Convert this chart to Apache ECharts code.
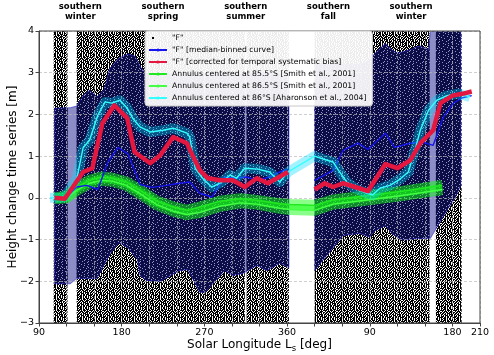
<!DOCTYPE html>
<html><head><meta charset="utf-8">
<script src="https://cdn.jsdelivr.net/npm/echarts@6/dist/echarts.min.js"></script>
<style>html,body{margin:0;padding:0;background:#fff;}#c{width:494px;height:355px;}</style>
</head><body><div id="c"></div>
<script>
// ---------------- data ----------------
const X_MIN = 90, X_MAX = 570, Y_MIN = -3, Y_MAX = 4;
const xLabelValues = [90, 180, 270, 360, 450, 540, 570];
const seasonLabels = ['southern\nwinter', 'southern\nspring', 'southern\nsummer', 'southern\nfall', 'southern\nwinter'];
const seasonCenters = [135, 225, 315, 405, 495];

// L_s ranges covered by the "F" point cloud
const dotRanges = [[106, 121], [131, 314], [316, 362], [390, 515], [522, 550]];

// envelope of the point cloud (left part / right part)
const bandLLs = [107, 124, 131, 138, 145, 153, 161, 167, 177, 187, 194, 197, 200, 207, 222, 243, 252, 265, 271, 292, 301, 312, 327, 338, 352, 362];
const bandLUp = [2.15, 2.16, 2.2, 2.45, 2.58, 2.42, 2.6, 3.1, 3.35, 3.45, 3.4, 3.3, 3.15, 2.95, 3.0, 3.0, 3.0, 3.0, 3.0, 3.0, 3.0, 3.0, 3.0, 3.0, 3.0, 3.0];
const bandLLo = [-2.06, -2.06, -1.93, -1.93, -1.93, -1.93, -1.6, -1.35, -1.07, -1.2, -1.4, -1.45, -1.86, -1.98, -2.0, -1.74, -1.72, -2.26, -2.26, -1.74, -1.86, -1.81, -1.62, -1.74, -1.57, -1.67];
const bandRLs = [390, 421, 439, 450, 455, 467, 474, 480, 486, 494, 501, 505, 514, 516, 534, 543, 549];
const bandRUp = [3.2, 3.2, 3.2, 3.3, 3.45, 3.7, 3.55, 3.47, 3.5, 3.55, 3.62, 3.64, 3.55, 4.3, 4.3, 4.3, 4.3];
const bandRLo = [-1.74, -0.9, -0.85, -0.94, -0.8, -0.66, -0.85, -0.95, -1.01, -1.0, -0.97, -0.97, -0.97, -0.97, -0.3, 0.0, 0.3];

// "F" median-binned curve
const blueLs = [107, 120, 131, 142, 154, 165, 176, 187, 200, 213, 229, 243, 254, 265, 278, 292, 303, 316, 328, 341, 352, 360, 375, 390, 410, 421, 437, 448, 467, 477, 494, 507, 519, 530, 541, 551, 561];
const blueVal = [0.0, 0.02, 0.26, 0.3, 0.2, 0.86, 1.21, 1.05, 0.32, 0.25, 0.3, 0.35, 0.38, 0.11, 0.02, 0.5, 0.47, 0.5, 0.42, 0.5, 0.62, 0.69, null, 0.42, 0.66, 1.14, 1.31, 1.16, 1.55, 1.21, 1.31, 1.34, 1.26, 1.93, 2.27, 2.4, 2.45];

// "F" corrected for temporal systematic bias
const redLs = [107, 118, 120, 138, 148, 159, 172, 186, 194, 211, 222, 236, 251, 256, 265, 274, 287, 301, 314, 327, 339, 349, 361, 375, 390, 401, 410, 421, 434, 448, 467, 480, 494, 505, 519, 527, 540, 552, 561];
const redVal = [0.0, -0.02, 0.04, 0.62, 0.71, 1.79, 2.22, 1.91, 1.1, 0.83, 1.02, 1.46, 1.31, 1.07, 0.66, 0.47, 0.42, 0.42, 0.26, 0.47, 0.35, 0.47, 0.62, null, 0.2, 0.35, 0.26, 0.35, 0.26, 0.16, 0.81, 0.71, 0.9, 1.31, 1.62, 2.27, 2.45, 2.5, 2.55];

// Annulus 85.5°S and 86.5°S [Smith et al., 2001]
const greenLs = [107, 120, 131, 145, 158, 170, 185, 200, 218, 236, 251, 265, 287, 309, 327, 352, 363, 390, 410, 447, 483, 505, 529];
const green855 = [0.0, 0.04, 0.26, 0.42, 0.5, 0.47, 0.38, 0.18, -0.08, -0.22, -0.3, -0.22, -0.08, -0.02, -0.06, -0.14, -0.16, -0.18, -0.05, 0.05, 0.15, 0.22, 0.3];
const green865 = [-0.02, 0.0, 0.18, 0.35, 0.42, 0.4, 0.3, 0.1, -0.16, -0.32, -0.4, -0.35, -0.2, -0.12, -0.15, -0.25, -0.28, -0.3, -0.15, -0.05, 0.05, 0.12, 0.2];

// Annulus 86°S [Aharonson et al., 2004]
const cyanLs = [102, 113, 118, 126, 131, 138, 145, 154, 162, 169, 178, 186, 192, 200, 211, 225, 236, 251, 254, 260, 268, 278, 289, 298, 305, 314, 328, 341, 352, 361, 390, 401, 410, 416, 425, 434, 447, 453, 461, 472, 483, 492, 500, 505, 514, 523, 534, 546, 559];
const cyanVal = [0.0, 0.0, 0.02, 0.3, 0.45, 1.2, 1.38, 1.98, 2.3, 2.27, 2.34, 2.15, 1.91, 1.7, 1.58, 1.62, 1.67, 1.55, 1.46, 0.71, 0.47, 0.26, 0.38, 0.55, 0.47, 0.71, 0.69, 0.62, 0.38, 0.62, 1.0, 0.92, 0.86, 0.66, 0.38, 0.23, 0.11, 0.07, 0.23, 0.3, 0.45, 0.62, 1.21, 1.62, 2.1, 2.34, 2.45, 2.5, 2.42];

const NAME_F = '"F"';
const NAME_BLUE = '"F" [median-binned curve]';
const NAME_RED = '"F" [corrected for temporal systematic bias]';
const NAME_G1 = 'Annulus centered at 85.5°S [Smith et al., 2001]';
const NAME_G2 = 'Annulus centered at 86.5°S [Smith et al., 2001]';
const NAME_CYAN = 'Annulus centered at 86°S [Aharonson et al., 2004]';

// ---------------- styling helpers ----------------
const FONT = 'DejaVu Sans';
function pairs(xs, ys) { return xs.map((x, i) => [x, ys[i] == null ? '-' : ys[i]]); }
const bandSets = [[bandLLs, bandLUp, bandLLo], [bandRLs, bandRUp, bandRLo]];

function makeTile(rows, ink, paper) {
  const c = document.createElement('canvas'); c.width = rows[0].length; c.height = rows.length;
  const g = c.getContext('2d');
  g.fillStyle = paper; g.fillRect(0, 0, c.width, c.height);
  g.fillStyle = ink;
  rows.forEach((r, y) => { for (let x = 0; x < r.length; x++) if (r[x] === '#') g.fillRect(x, y, 1, 1); });
  return c;
}
// speckle textures: open point cloud, and the dense core inside the envelope
const sparseTile = makeTile([
  '#.##.#.##.#.#',
  '.###.##.###.#',
  '##.#.###.#.##',
  '#.###.#.###..',
  '.##.##.###.##',
  '##.#.###.#.#.',
  '#.##.#.####.#',
  '.#.###.#.##.#',
  '##.#.##.###.#',
  '#.##.##.#.###',
  '.###.#.##.#.#'
], '#000', '#fff');
const denseTile = makeTile([
  '###.######.##',
  '######.######',
  '#.#######.###',
  '#####.####.##',
  '########.###.',
  '##.##########',
  '#######.##.##',
  '.#####.######',
  '####.#####.##',
  '#########.###',
  '#.####.######'
], '#0c0c46', '#9494cc');
const dotIcon = (function () {
  const c = document.createElement('canvas'); c.width = 18; c.height = 4;
  const g = c.getContext('2d'); g.fillStyle = '#000'; g.fillRect(3, 1, 2, 2);
  return 'image://' + c.toDataURL();
})();

// clip a pixel polygon to a vertical slab [xa, xb]
function clipEdge(pts, inside, cross) {
  const res = [];
  for (let i = 0; i < pts.length; i++) {
    const cur = pts[i], prev = pts[(i + pts.length - 1) % pts.length];
    const ci = inside(cur), pi = inside(prev);
    if (ci) { if (!pi) res.push(cross(prev, cur)); res.push(cur); }
    else if (pi) res.push(cross(prev, cur));
  }
  return res;
}
function atX(a, b, x) { const t = (x - a[0]) / (b[0] - a[0]); return [x, a[1] + t * (b[1] - a[1])]; }
function clipSlab(pts, xa, xb) {
  let out = clipEdge(pts, p => p[0] >= xa, (a, b) => atX(a, b, xa));
  if (out.length) out = clipEdge(out, p => p[0] <= xb, (a, b) => atX(a, b, xb));
  return out;
}

function wideBand(xs, ys, color, width, z) {
  return { type: 'line', data: pairs(xs, ys), symbol: 'none', silent: true, z: z,
    lineStyle: { width: width, color: color, join: 'round', cap: 'butt' } };
}
function curve(name, xs, ys, color, width, z) {
  return { type: 'line', name: name, data: pairs(xs, ys), symbol: 'none', z: z,
    lineStyle: { width: width, color: color, join: 'round' }, itemStyle: { color: color } };
}

const chart = echarts.init(document.getElementById('c'), null, { renderer: 'canvas' });
const option = {
  animation: false,
  textStyle: { fontFamily: FONT },
  grid: { left: 39, right: 14, top: 31, bottom: 32, containLabel: false, outerBoundsMode: 'none',
    show: true, borderColor: '#444', borderWidth: 1, z: 9 },
  xAxis: {
    type: 'value', min: X_MIN, max: X_MAX, interval: 30, z: 3,
    axisLine: { show: true, onZero: false, lineStyle: { color: '#444' } },
    axisTick: { show: true, length: 3.5, lineStyle: { color: '#444' } },
    axisLabel: { color: '#000', fontSize: 9.5, fontFamily: FONT, margin: 5,
      formatter: v => xLabelValues.indexOf(v) >= 0 ? String(v > 360 ? v - 360 : v) : '' },
    splitLine: { show: true, lineStyle: { color: '#b8b8b8', type: [3, 2], width: 0.8, opacity: 0.85 } },
    name: 'Solar Longitude L{s|s} [deg]', nameLocation: 'middle', nameGap: 14, nameMoveOverlap: false,
    nameTextStyle: { color: '#000', fontSize: 12, fontFamily: FONT, lineHeight: 16,
      rich: { s: { fontSize: 8.5, fontFamily: FONT, lineHeight: 10, verticalAlign: 'bottom', color: '#000' } } }
  },
  yAxis: {
    type: 'value', min: Y_MIN, max: Y_MAX, interval: 1, z: 3,
    axisLine: { show: true, onZero: false, lineStyle: { color: '#444' } },
    axisTick: { show: true, length: 3.5, lineStyle: { color: '#444' } },
    axisLabel: { color: '#000', fontSize: 9.5, fontFamily: FONT, margin: 5,
      formatter: v => v < 0 ? '\u2212' + (-v) : String(v) },
    splitLine: { show: true, lineStyle: { color: '#b8b8b8', type: [3, 2], width: 0.8, opacity: 0.85 } },
    name: 'Height change time series [m]', nameLocation: 'middle', nameGap: 20, nameMoveOverlap: false,
    nameTextStyle: { color: '#000', fontSize: 12, fontFamily: FONT }
  },
  legend: {
    orient: 'vertical', left: 145, top: 31, z: 20, selectedMode: false,
    itemWidth: 18, itemHeight: 4, itemGap: 2,
    textStyle: { fontFamily: FONT, fontSize: 7.7, color: '#000', lineHeight: 10 },
    backgroundColor: 'rgba(255,255,255,0.93)', borderColor: '#c8c8c8', borderWidth: 1, borderRadius: 3,
    padding: [2, 6, 3, 3],
    data: [{ name: NAME_F, icon: dotIcon }, NAME_BLUE, NAME_RED, NAME_G1, NAME_G2, NAME_CYAN]
  },
  series: [
    {
      type: 'custom', name: NAME_F, z: 1, silent: true, data: dotRanges,
      itemStyle: { color: '#000' },
      renderItem: function (params, api) {
        const p0 = api.coord([api.value(0), Y_MAX]);
        const p1 = api.coord([api.value(1), Y_MIN]);
        return { type: 'rect', shape: { x: p0[0], y: p0[1], width: p1[0] - p0[0], height: p1[1] - p0[1] },
          style: { fill: { type: 'pattern', image: sparseTile, repeat: 'repeat' } } };
      }
    },
    {
      type: 'custom', name: 'envelope', z: 2, silent: true, clip: true,
      data: bandSets.map((s, i) => [s[0][0], s[0][s[0].length - 1], i]),
      renderItem: function (params, api) {
        const set = bandSets[api.value(2)];
        const top = params.coordSys.y;
        const upPts = set[0].map((x, i) => api.coord([x, set[1][i]]));
        const loPts = set[0].map((x, i) => api.coord([x, set[2][i]])).reverse();
        const pts = upPts.concat(loPts).map(p => [p[0], Math.max(p[1], top)]);
        const children = [{ type: 'polygon', shape: { points: pts },
          style: { fill: 'rgba(0,0,128,0.45)' } }];
        dotRanges.forEach(r => {
          const xa = api.coord([r[0], 0])[0], xb = api.coord([r[1], 0])[0];
          const part = clipSlab(pts, xa, xb);
          if (part.length > 2) children.push({ type: 'polygon', shape: { points: part },
            style: { fill: { type: 'pattern', image: denseTile, repeat: 'repeat' } } });
        });
        children.push({ type: 'polygon', shape: { points: pts },
          style: { fill: null, stroke: 'rgba(40,40,200,0.8)', lineWidth: 0.8 } });
        return { type: 'group', children: children };
      }
    },
    wideBand(greenLs, green855, 'rgba(20,255,20,0.5)', 11, 4),
    wideBand(greenLs, green865, 'rgba(20,255,20,0.5)', 11, 4),
    curve(NAME_G1, greenLs, green855, '#22e822', 1.4, 5),
    curve(NAME_G2, greenLs, green865, '#44ff44', 1.4, 5),
    curve(NAME_BLUE, blueLs, blueVal, '#1414f0', 1.4, 6),
    wideBand(cyanLs, cyanVal, 'rgba(0,220,255,0.36)', 10, 7),
    curve(NAME_CYAN, cyanLs, cyanVal, '#33ffff', 1.4, 8),
    curve(NAME_RED, redLs, redVal, '#e3173f', 4.5, 9)
  ]
};
chart.setOption(option);

const gridTopPx = chart.convertToPixel({ yAxisIndex: 0 }, Y_MAX);
chart.setOption({
  graphic: seasonLabels.map((t, i) => ({
    type: 'text', silent: true,
    x: chart.convertToPixel({ xAxisIndex: 0 }, seasonCenters[i]),
    y: gridTopPx - 9,
    style: { text: t, fill: '#000', font: 'bold 8.5px "DejaVu Sans"', lineHeight: 10,
      align: 'center', verticalAlign: 'bottom', textAlign: 'center', textVerticalAlign: 'bottom' }
  }))
});
</script></body></html>
